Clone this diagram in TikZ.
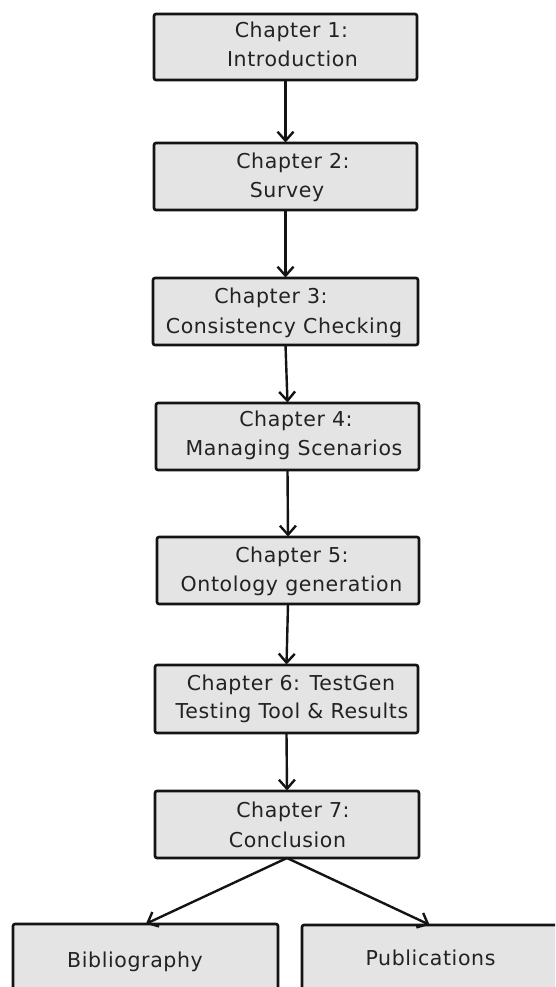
\documentclass[tikz,border=0pt]{standalone}
\usepackage{fontspec}
\setmainfont{DejaVu Sans}[LetterSpace=3]
\usetikzlibrary{arrows.meta}
\definecolor{boxfill}{HTML}{E4E4E4}
\definecolor{inkline}{HTML}{141414}
\definecolor{inktext}{HTML}{222222}
\tikzset{
  chapbox/.style={draw=inkline, fill=boxfill, line width=2.6pt, rounded corners=2pt,
    inner sep=0pt, outer sep=0pt},
  txt/.style={anchor=base, inner sep=0pt, text=inktext, font=\fontsize{20.5}{24}\selectfont},
  flow/.style={draw=inkline, line width=2.4pt,
    -{Straight Barb[length=9pt,width=16pt,line width=2.4pt]}, shorten >=0.5pt}
}
\begin{document}
\begin{tikzpicture}[x=1pt,y=-1pt]
\useasboundingbox (0,0) rectangle (555,987);
\clip (0,0) rectangle (555,987);

% chapter boxes
\node[chapbox, minimum width=263pt, minimum height=66pt] (c1) at (285.5,47) {};
\node[chapbox, minimum width=263pt, minimum height=67pt] (c2) at (285.5,176.5) {};
\node[chapbox, minimum width=265pt, minimum height=67pt] (c3) at (285.5,311.5) {};
\node[chapbox, minimum width=263pt, minimum height=67pt] (c4) at (287.5,436.5) {};
\node[chapbox, minimum width=262pt, minimum height=67pt] (c5) at (288,570.5) {};
\node[chapbox, minimum width=263pt, minimum height=68pt] (c6) at (286.5,699) {};
\node[chapbox, minimum width=264pt, minimum height=67pt] (c7) at (287,824.5) {};

% closing boxes, running off the lower edge
\node[chapbox, minimum width=265pt, minimum height=100pt] (bib) at (145.5,974) {};
\node[chapbox, minimum width=256pt, minimum height=100pt] (pub) at (430,975) {};

% box texts
\node[txt] (t1a) at (291.5,38) {Chapter 1:};
\node[txt] (t1b) at (292.5,67) {Introduction};
\node[txt] (t2a) at (293,169) {Chapter 2:};
\node[txt] (t2b) at (287,197) {Survey};
\node[txt] (t3a) at (271,303) {Chapter 3:};
\node[txt] (t3b) at (284,333) {Consistency Checking};
\node[txt] (t4a) at (296,426) {Chapter 4:};
\node[txt] (t4b) at (294,455) {Managing Scenarios};
\node[txt] (t5a) at (292,562) {Chapter 5:};
\node[txt] (t5b) at (291.5,591) {Ontology generation};
\node[txt] (t6a) at (291,690) {Chapter 6: TestGen};
\node[txt] (t6b) at (292,718) {Testing Tool \& Results};
\node[txt] (t7a) at (293,817) {Chapter 7:};
\node[txt] (t7b) at (287.5,847) {Conclusion};
\node[txt] (tbib) at (135,967) {Bibliography};
\node[txt] (tpub) at (430.5,965) {Publications};

% reading order
\draw[flow] (c1.south) -- (c2.north);
\draw[flow] (c2.south) -- (c3.north);
\draw[flow] (c3.south) -- (c4.north);
\draw[flow] (c4.south) -- (c5.north);
\draw[flow] (c5.south) -- (c6.north);
\draw[flow] (c6.south) -- (c7.north);
\draw[flow] (c7.south) -- (bib.north);
\draw[flow] (c7.south) -- (pub.north);
\end{tikzpicture}
\end{document}
